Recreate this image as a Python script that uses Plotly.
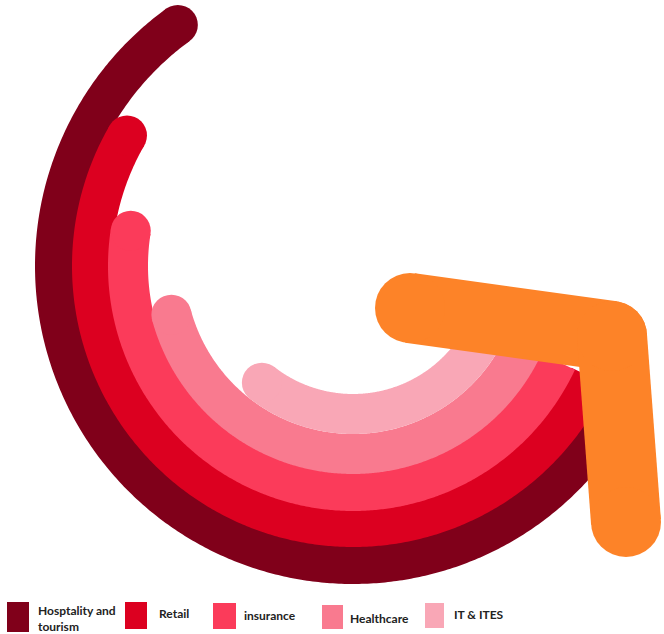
import numpy as np
import plotly.graph_objects as go

# ---- data ----
categories = ["Hosptality and<br>tourism", "Retail", "insurance", "Healthcare", "IT & ITES"]
arc_degrees = [209, 185, 164, 140, 103]      # angular length of each arc
ring_radius = [298, 261, 225, 188, 148]      # ring (track) radius
colors = ["#80001A", "#DC0020", "#FB3B5A", "#F97A8F", "#F9A7B6"]
arc_end_deg = 335

# decorative arrow path (two strokes meeting at a rounded corner)
arrow_x = [57, 259, None, 259, 273]
arrow_y = [-42, -70, None, -70, -256]
arrow_color = "#FD8328"

W, H = 664, 634
CX, CY = 353, 266  # pixel position of ring centre

fig = go.Figure()
band = 40
for name, span, r, c in zip(categories, arc_degrees, ring_radius, colors):
    start = arc_end_deg - span
    th = np.radians(np.linspace(start, arc_end_deg, 400))
    fig.add_trace(go.Scatter(x=r * np.cos(th), y=r * np.sin(th), mode="lines",
                             line=dict(color=c, width=band, simplify=False),
                             hoverinfo="skip", showlegend=False))
    fig.add_trace(go.Scatter(x=[r * np.cos(th[0])], y=[r * np.sin(th[0])], mode="markers",
                             marker=dict(color=c, size=band, line=dict(width=0)),
                             hoverinfo="skip", showlegend=False))

fig.add_trace(go.Scatter(x=arrow_x, y=arrow_y, mode="lines+markers", connectgaps=False,
                         line=dict(color=arrow_color, width=70, simplify=False),
                         marker=dict(color=arrow_color, size=70, line=dict(width=0)),
                         hoverinfo="skip", showlegend=False))

# ---- legend (manual) ----
leg_sq = [(7, 29, 602, 632), (125, 147, 602, 629), (213, 236, 603, 629),
          (322, 343, 605, 629), (425, 444, 603, 628)]
leg_txt = [(36, 618), (157, 613), (242, 615), (348, 618), (452, 614)]
shapes, annos = [], []
for (x0, x1, y0, y1), (tx, ty), name, c in zip(leg_sq, leg_txt, categories, colors):
    shapes.append(dict(type="rect", xref="paper", yref="paper",
                       x0=x0 / W, x1=x1 / W, y0=1 - y1 / H, y1=1 - y0 / H,
                       fillcolor=c, line=dict(width=0)))
    annos.append(dict(xref="paper", yref="paper", x=tx / W, y=1 - ty / H,
                      text="<b>%s</b>" % name, showarrow=False, xanchor="left",
                      yanchor="middle", align="left",
                      font=dict(family="Lato", size=12, color="#222")))

fig.update_layout(
    width=W, height=H, margin=dict(l=0, r=0, t=0, b=0),
    paper_bgcolor="white", plot_bgcolor="white",
    xaxis=dict(range=[-CX, W - CX], visible=False, fixedrange=True),
    yaxis=dict(range=[CY - H, CY], visible=False, fixedrange=True),
    shapes=shapes, annotations=annos, showlegend=False,
)
fig.write_html("out.html")
